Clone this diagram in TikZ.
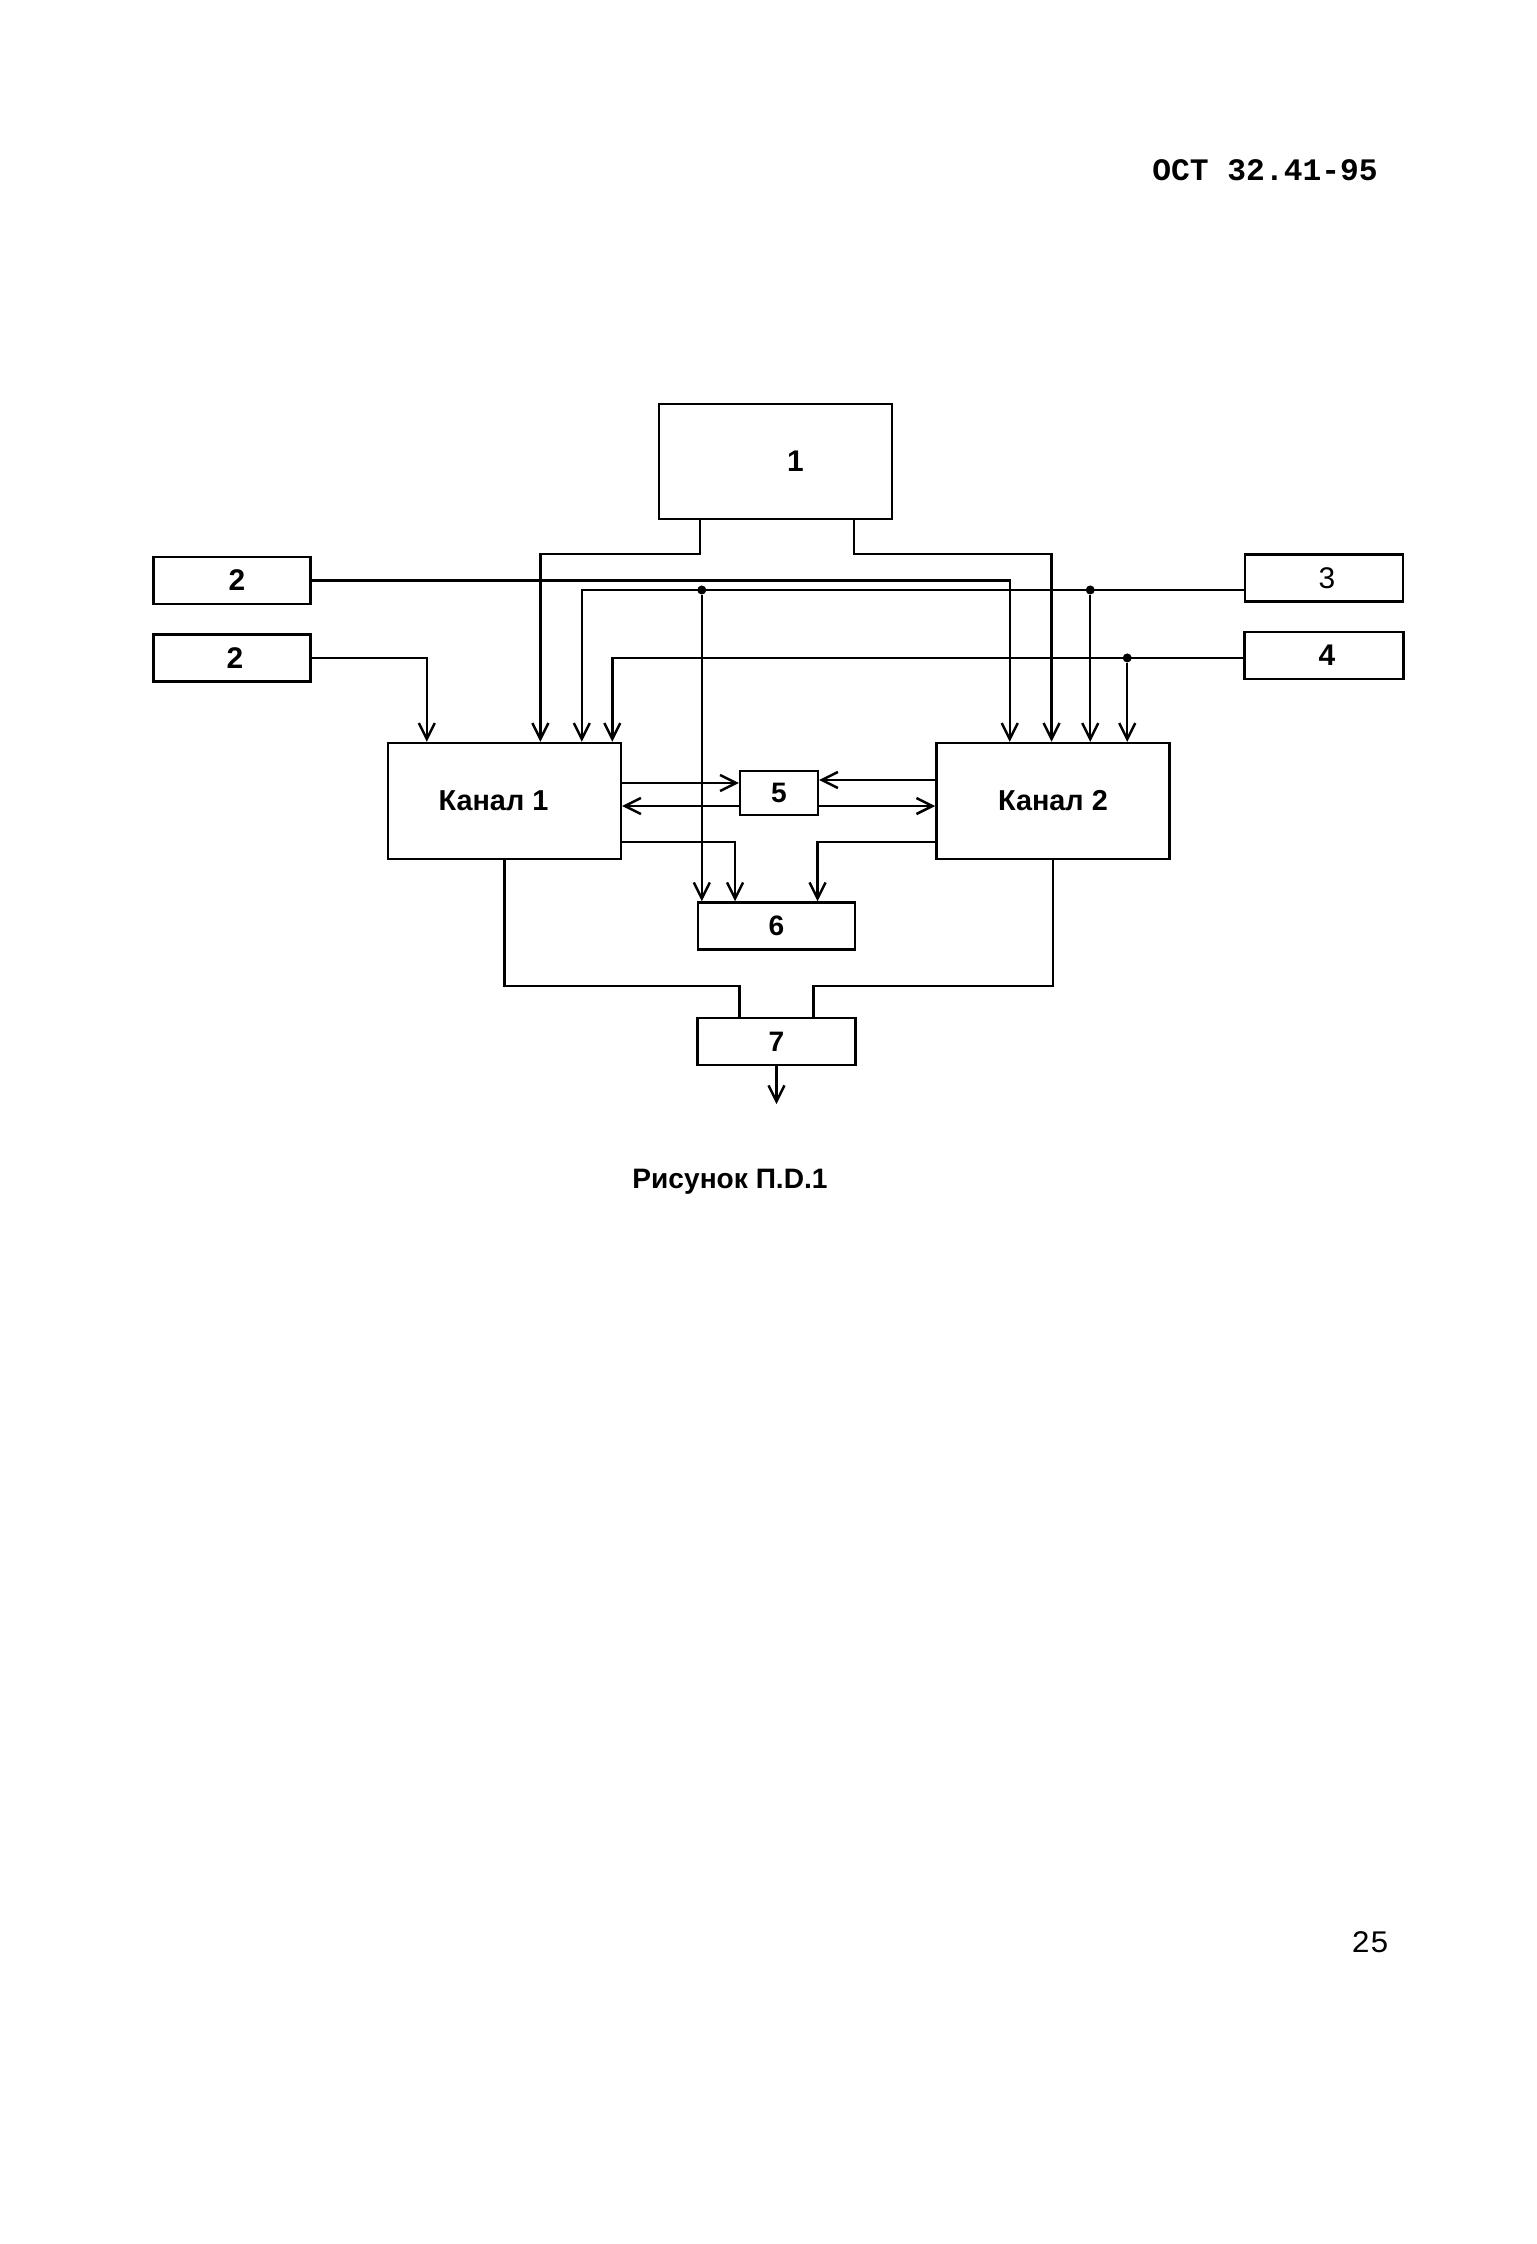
\documentclass[tikz,border=0pt]{standalone}
\usepackage{fontspec}
\setmainfont{Liberation Sans}
\newfontfamily\typefont{Liberation Mono}
\usetikzlibrary{arrows.meta, positioning}
\tikzset{
  blk/.style={rectangle, draw=black, line width=0.7pt, inner sep=0pt,
              minimum width=1.57cm, minimum height=0.47cm, font=\bfseries\fontsize{8.5}{10}\selectfont},
  small/.style={blk, font=\bfseries\fontsize{8}{9}\selectfont},
  chan/.style={blk, minimum width=2.33cm, minimum height=1.16cm, font=\bfseries\fontsize{8.2}{10}\selectfont},
  arrow/.style={-{Straight Barb[length=1.6mm, width=1.6mm]}, line width=0.7pt},
  wire/.style={line width=0.7pt},
  dot/.style={circle, fill=black, inner sep=0pt, minimum size=0.9mm},
  txt/.style={font=\bfseries\fontsize{8}{10}\selectfont},
}
\begin{document}
\begin{tikzpicture}
  \useasboundingbox (0,0) rectangle (15.36,-22.44);

  \node[font=\typefont\bfseries\fontsize{8.9}{10}\selectfont] (hdr) at (12.65,-1.70) {ОСТ 32.41-95};

  \node[blk, minimum width=2.33cm, minimum height=1.15cm] (b1) at (7.755,-4.615) {\hspace*{4mm}1};
  \node[blk] (b2a) at (2.32,-5.805) {\hspace*{1mm}2};
  \node[blk, below=0.28cm of b2a] (b2b) {\hspace*{0.6mm}2};
  \node[blk, minimum width=1.58cm, font=\fontsize{8.5}{10}\selectfont] (b3) at (13.24,-5.78) {\hspace*{0.6mm}3};
  \node[blk, minimum width=1.59cm, below=0.28cm of b3] (b4) {\hspace*{0.6mm}4};
  \node[chan] (ch1) at (5.045,-8.01) {Канал 1\hspace*{2.2mm}};
  \node[chan, right=3.13cm of ch1] (ch2) {Канал 2};
  \node[small, minimum width=0.78cm, minimum height=0.44cm] (b5) at (7.79,-7.93) {5};
  \node[small, below=0.85cm of b5, xshift=-0.25mm] (b6) {6};
  \node[small, minimum width=1.58cm, below=0.66cm of b6] (b7) {7};
  \coordinate (out) at ([yshift=-3.8mm]b7.south);

  \node[txt] (cap) at (7.30,-11.82) {Рисунок П.D.1};
  \node[font=\typefont\fontsize{8.9}{10}\selectfont] (page) at (13.70,-19.42) {25};

  % lines from 3 and 4
  \coordinate (in3) at ([yshift=-1.2mm]b3.west);
  \coordinate (in4) at ([yshift=-0.25mm]b4.west);
  \node[dot] (d3a) at ([xshift=0.5mm]b6.north west |- in3) {};
  \node[dot] (d3b) at ([xshift=15.5mm]ch2.north west |- in3) {};
  \node[dot] (d4) at ([xshift=19.2mm]ch2.north west |- in4) {};

  \draw[arrow] ([xshift=-7.55mm]b1.south) -- ++(0,-0.34) -| ([xshift=15.36mm]ch1.north west);
  \draw[arrow] ([xshift=7.85mm]b1.south) -- ++(0,-0.34) -| ([xshift=11.63mm]ch2.north west);
  \draw[arrow] (b2a.east) -| ([xshift=7.45mm]ch2.north west);
  \draw[arrow] (b2b.east) -| ([xshift=4mm]ch1.north west);
  \draw[arrow] (in3) -| ([xshift=19.5mm]ch1.north west);
  \draw[arrow] (in4) -| ([xshift=22.55mm]ch1.north west);
  \draw[arrow] (d3b) -- (d3b |- ch2.north);
  \draw[arrow] (d4) -- (d4 |- ch2.north);
  \draw[arrow] (d3a) -- (d3a |- b6.north);

  \draw[arrow] ([yshift=1.8mm]ch1.east) -- ([yshift=1.8mm]ch1.east -| b5.west);
  \draw[arrow] ([yshift=-1.3mm]b5.west) -- ([yshift=-1.3mm]b5.west -| ch1.east);
  \draw[arrow] ([yshift=2.1mm]ch2.west) -- ([yshift=2.1mm]ch2.west -| b5.east);
  \draw[arrow] ([yshift=-1.3mm]b5.east) -- ([yshift=-1.3mm]b5.east -| ch2.west);

  \draw[arrow] ([yshift=-4.1mm]ch1.east) -| ([xshift=-4.15mm]b6.north);
  \draw[arrow] ([yshift=-4.1mm]ch2.west) -| ([xshift=4.1mm]b6.north);

  \draw[wire] (ch1.south) -- ++(0,-1.26) -| ([xshift=-3.7mm]b7.north);
  \draw[wire] (ch2.south) -- ++(0,-1.26) -| ([xshift=3.7mm]b7.north);
  \draw[arrow] (b7.south) -- (out);
\end{tikzpicture}
\end{document}
